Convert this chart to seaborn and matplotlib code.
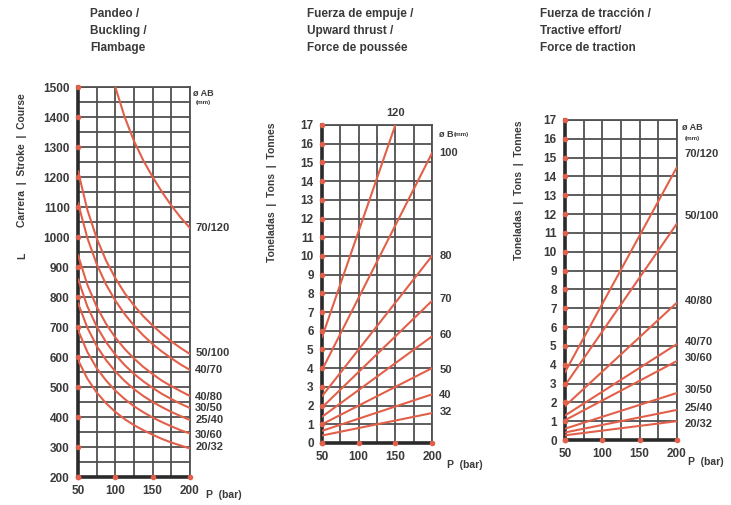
import matplotlib
matplotlib.use('Agg')
import matplotlib.pyplot as plt
import seaborn as sns
import numpy as np

sns.set_theme(style='white')
plt.rcParams['font.family'] = ['Liberation Sans', 'DejaVu Sans']

RED = '#e2604a'
GRID = '#505050'
TXT = '#3a3a3a'

# Buckling / Pandeo (stroke L in mm vs pressure in bar)
buck_p = [50, 62.5, 75, 87.5, 100, 112.5, 125, 137.5, 150, 162.5, 175, 187.5, 200]
buck_p_70_120 = [100, 112.5, 125, 137.5, 150, 162.5, 175, 187.5, 200]
buck_70_120 = [1500, 1400, 1320, 1255, 1200, 1150, 1105, 1065, 1030]
buck_50_100 = [1220, 1091, 996, 922, 863, 813, 772, 736, 705, 677, 652, 630, 610]
buck_40_70 = [1114, 997, 910, 842, 788, 743, 705, 672, 643, 618, 596, 575, 557]
buck_40_80 = [940, 841, 768, 711, 665, 627, 595, 567, 543, 521, 503, 486, 470]
buck_30_50 = [860, 769, 702, 650, 608, 573, 544, 519, 497, 477, 460, 444, 430]
buck_25_40 = [780, 698, 637, 590, 552, 520, 493, 470, 450, 433, 417, 403, 390]
buck_30_60 = [690, 617, 563, 522, 488, 460, 436, 416, 398, 383, 369, 356, 345]
buck_20_32 = [590, 528, 482, 446, 417, 393, 373, 356, 341, 327, 315, 305, 295]
buck_labels = ['70/120', '50/100', '40/70', '40/80', '30/50', '25/40', '30/60', '20/32']
buck_label_y = [1030, 613, 557, 467, 430, 390, 340, 300]

# Upward thrust (tonnes vs bar), bore diameter B
thrust_p = [50, 200]
thrust_p_120 = [50, 150]
thrust_120 = [5.65, 17.0]
thrust_100 = [3.9, 15.5]
thrust_80 = [2.5, 10.0]
thrust_70 = [1.9, 7.6]
thrust_60 = [1.4, 5.7]
thrust_50 = [1.0, 4.0]
thrust_40 = [0.65, 2.6]
thrust_32 = [0.4, 1.6]
thrust_labels = ['100', '80', '70', '60', '50', '40', '32']
thrust_label_y = [15.5, 10.0, 7.7, 5.75, 3.9, 2.55, 1.65]

# Tractive effort (tonnes vs bar), rod/bore A/B
tract_p = [50, 200]
tract_70_120 = [3.6, 14.5]
tract_50_100 = [2.9, 11.5]
tract_40_80 = [1.8, 7.3]
tract_40_70 = [1.3, 5.1]
tract_30_60 = [1.05, 4.2]
tract_30_50 = [0.6, 2.5]
tract_25_40 = [0.4, 1.6]
tract_20_32 = [0.25, 1.0]
tract_labels = ['70/120', '50/100', '40/80', '40/70', '30/60', '30/50', '25/40', '20/32']
tract_label_y = [15.2, 11.9, 7.4, 5.2, 4.35, 2.65, 1.7, 0.85]

x_ticks = [50, 100, 150, 200]

fig = plt.figure(figsize=(7.31, 5.05), dpi=100)
ax1 = fig.add_axes([0.1067, 0.0554, 0.1532, 0.7723])
ax2 = fig.add_axes([0.4405, 0.1228, 0.1505, 0.6297])
ax3 = fig.add_axes([0.7729, 0.1287, 0.1532, 0.6337])


def style_axis(ax, ymin, ymax, yticks):
    ax.set_xlim(50, 200)
    ax.set_ylim(ymin, ymax)
    ax.set_axisbelow(True)
    ax.set_xticks(x_ticks)
    ax.set_xticks([75, 125, 175], minor=True)
    ax.grid(True, which='major', color=GRID, lw=1.3)
    ax.grid(True, which='minor', axis='x', color=GRID, lw=1.3)
    ax.set_xticklabels([str(t) for t in x_ticks], fontsize=8.5, fontweight='bold', color=TXT)
    ax.set_yticks(yticks)
    ax.set_yticklabels([str(t) for t in yticks], fontsize=8.5, fontweight='bold', color=TXT)
    ax.tick_params(axis='both', which='both', length=3, width=1, color=RED, pad=3)
    for side in ['top', 'right']:
        ax.spines[side].set_color(GRID)
        ax.spines[side].set_linewidth(1.3)
    for side in ['left', 'bottom']:
        ax.spines[side].set_color('#2a2a2a')
        ax.spines[side].set_linewidth(2.6)
    ax.scatter([50] * len(yticks), yticks, s=9, color=RED, zorder=5, clip_on=False)
    ax.scatter(x_ticks, [ymin] * len(x_ticks), s=9, color=RED, zorder=5, clip_on=False)


# Panel 1
style_axis(ax1, 200, 1500, list(range(200, 1501, 100)))
ax1.set_yticks(list(range(250, 1500, 100)), minor=True)
ax1.grid(True, which='minor', axis='y', color=GRID, lw=1.3)
ax1.tick_params(axis='y', which='minor', length=3, color=GRID)
sns.lineplot(x=buck_p_70_120, y=buck_70_120, ax=ax1, color=RED, lw=1.5, zorder=3)
for vals in [buck_50_100, buck_40_70, buck_40_80, buck_30_50, buck_25_40, buck_30_60, buck_20_32]:
    sns.lineplot(x=buck_p, y=vals, ax=ax1, color=RED, lw=1.5, zorder=3)
for lab, yv in zip(buck_labels, buck_label_y):
    ax1.text(207, yv, lab, fontsize=8, fontweight='bold', color=TXT, va='center', ha='left', clip_on=False)
ax1.text(218, 1480, 'ø AB', fontsize=6.5, fontweight='bold', color=TXT, ha='center', va='center')
ax1.text(218, 1447, '(mm)', fontsize=4.5, fontweight='bold', color=TXT, ha='center', va='center')
ax1.text(1.14, -0.045, 'P  (bar)', transform=ax1.transAxes, fontsize=7.5, fontweight='bold', color=TXT, va='center')

# Panel 2
style_axis(ax2, 0, 17, list(range(0, 18)))
sns.lineplot(x=thrust_p_120, y=thrust_120, ax=ax2, color=RED, lw=1.5, zorder=3)
for vals in [thrust_100, thrust_80, thrust_70, thrust_60, thrust_50, thrust_40, thrust_32]:
    sns.lineplot(x=thrust_p, y=vals, ax=ax2, color=RED, lw=1.5, zorder=3)
for lab, yv in zip(thrust_labels, thrust_label_y):
    ax2.text(210, yv, lab, fontsize=8, fontweight='bold', color=TXT, va='center', ha='left', clip_on=False)
ax2.text(150, 17.35, '120', fontsize=8, fontweight='bold', color=TXT, va='bottom', ha='center')
ax2.text(210, 16.5, 'ø B', fontsize=6.5, fontweight='bold', color=TXT, va='center', ha='left')
ax2.text(229, 16.5, '(mm)', fontsize=4.5, fontweight='bold', color=TXT, va='center', ha='left')
ax2.text(1.14, -0.07, 'P  (bar)', transform=ax2.transAxes, fontsize=7.5, fontweight='bold', color=TXT, va='center')

# Panel 3
style_axis(ax3, 0, 17, list(range(0, 18)))
for vals in [tract_70_120, tract_50_100, tract_40_80, tract_40_70, tract_30_60, tract_30_50, tract_25_40, tract_20_32]:
    sns.lineplot(x=tract_p, y=vals, ax=ax3, color=RED, lw=1.5, zorder=3)
for lab, yv in zip(tract_labels, tract_label_y):
    ax3.text(210, yv, lab, fontsize=8, fontweight='bold', color=TXT, va='center', ha='left', clip_on=False)
ax3.text(220, 16.6, 'ø AB', fontsize=6.5, fontweight='bold', color=TXT, ha='center', va='center')
ax3.text(220, 16.0, '(mm)', fontsize=4.5, fontweight='bold', color=TXT, ha='center', va='center')
ax3.text(1.1, -0.07, 'P  (bar)', transform=ax3.transAxes, fontsize=7.5, fontweight='bold', color=TXT, va='center')

# titles and axis captions
title_kw = dict(fontsize=8.5, fontweight='bold', color=TXT, ha='left', va='top', linespacing=1.55)
fig.text(90 / 731, 1 - 8 / 505, 'Pandeo /\nBuckling /\nFlambage', **title_kw)
fig.text(307 / 731, 1 - 8 / 505, 'Fuerza de empuje /\nUpward thrust /\nForce de poussée', **title_kw)
fig.text(540 / 731, 1 - 8 / 505, 'Fuerza de tracción /\nTractive effort/\nForce de traction', **title_kw)

cap_kw = dict(fontsize=7.5, fontweight='bold', color=TXT, rotation=90, ha='center', va='center')
fig.text(22 / 731, 1 - 160 / 505, 'Carrera  |  Stroke  |  Course', **cap_kw)
fig.text(22 / 731, 1 - 256 / 505, 'L', **cap_kw)
fig.text(272 / 731, 1 - 192 / 505, 'Toneladas  |  Tons  |  Tonnes', **cap_kw)
fig.text(519 / 731, 1 - 190 / 505, 'Toneladas  |  Tons  |  Tonnes', **cap_kw)

for ax in [ax1, ax2, ax3]:
    ax.set_xlabel('')
    ax.set_ylabel('')

plt.savefig('out.png', dpi=100)
